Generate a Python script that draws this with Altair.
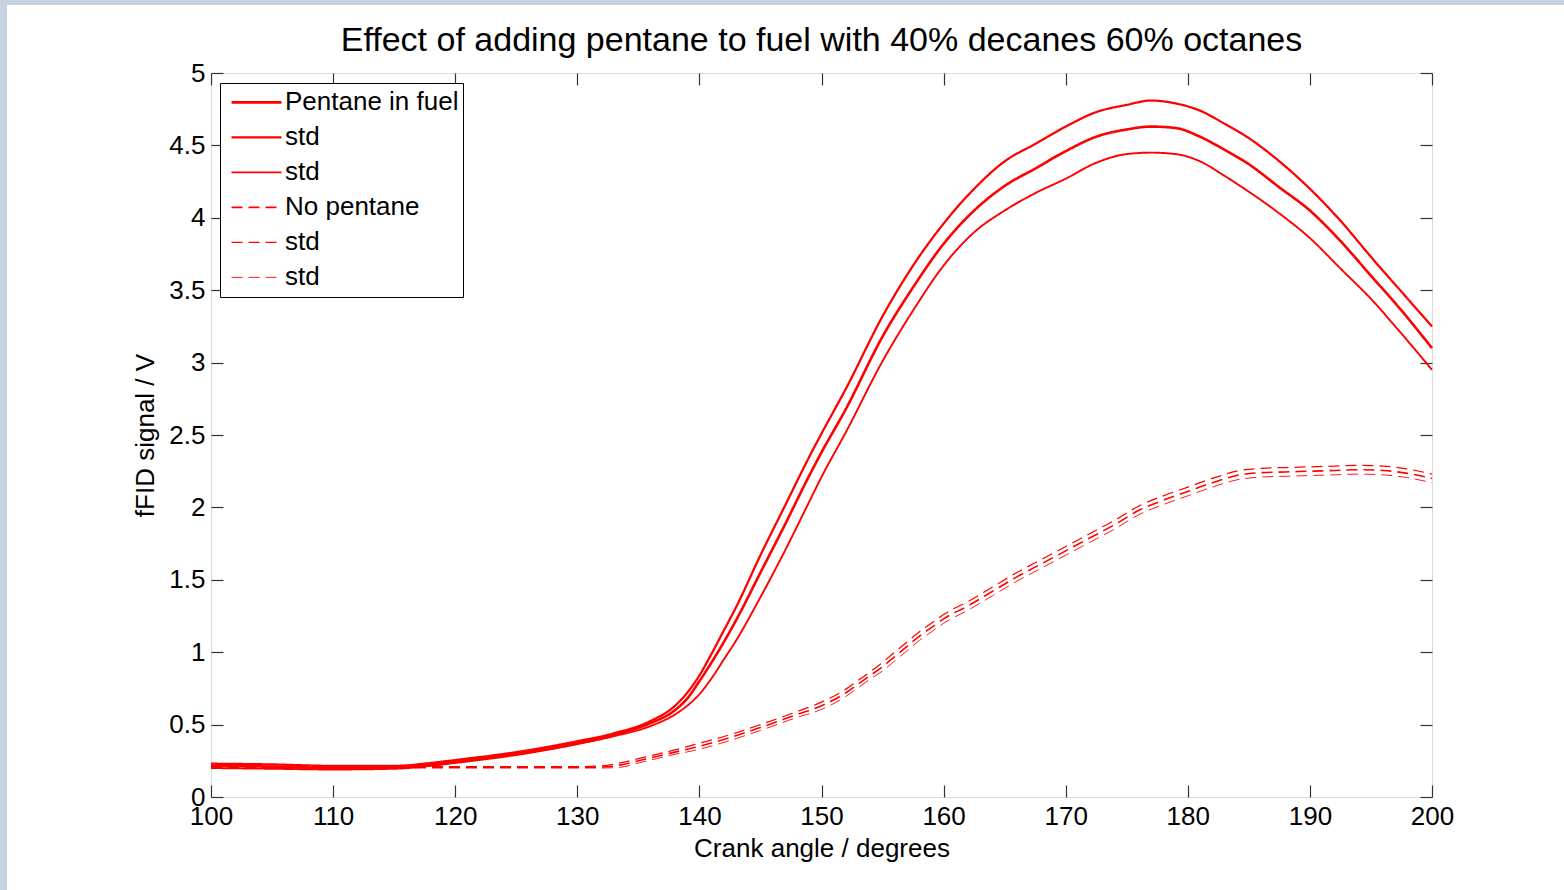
import altair as alt
import pandas as pd

# ---- Crank angle grid and fFID signal (V) ----
ANGLE_P = [100, 105, 110, 115, 118, 120, 125, 130, 133, 136, 138, 139, 140, 141,
           142, 143, 145, 147, 149, 150, 152, 155, 157.5, 160, 162.5, 165, 167.5,
           170, 172.5, 175, 177, 179, 181, 183, 185, 187.5, 190, 192.5, 195, 197.5, 200]
PENT_MEAN = [0.215, 0.21, 0.20, 0.205, 0.225, 0.245, 0.30, 0.375, 0.43, 0.51, 0.60, 0.68,
             0.80, 0.93, 1.07, 1.22, 1.55, 1.88, 2.22, 2.38, 2.68, 3.18, 3.52, 3.82, 4.05,
             4.22, 4.34, 4.46, 4.56, 4.61, 4.63, 4.62, 4.56, 4.47, 4.37, 4.21, 4.05, 3.84,
             3.60, 3.36, 3.10]
PENT_UP = [0.23, 0.225, 0.215, 0.215, 0.235, 0.255, 0.31, 0.385, 0.44, 0.525, 0.63, 0.72,
           0.84, 0.99, 1.15, 1.31, 1.67, 2.01, 2.35, 2.51, 2.82, 3.32, 3.67, 3.96, 4.20,
           4.39, 4.51, 4.63, 4.73, 4.78, 4.81, 4.79, 4.74, 4.65, 4.55, 4.39, 4.20, 3.98,
           3.73, 3.49, 3.25]
PENT_LO = [0.20, 0.195, 0.19, 0.195, 0.215, 0.235, 0.29, 0.365, 0.42, 0.49, 0.57, 0.63,
           0.71, 0.82, 0.95, 1.08, 1.38, 1.70, 2.04, 2.21, 2.52, 3.01, 3.36, 3.67, 3.90,
           4.05, 4.17, 4.27, 4.38, 4.44, 4.45, 4.44, 4.39, 4.29, 4.18, 4.03, 3.86, 3.65,
           3.44, 3.20, 2.95]

ANGLE_N = [100, 110, 120, 130, 132, 133.5, 135, 136.5, 138, 139.5, 142.5, 145, 148, 150,
           152, 153, 154, 155, 156, 157, 158, 159, 160, 162, 164, 166, 168, 170, 172, 174,
           176, 178, 180, 182, 184, 186, 188, 190, 192, 194, 196, 198, 200]
NOP_MEAN = [0.205, 0.205, 0.205, 0.205, 0.207, 0.22, 0.25, 0.28, 0.31, 0.34, 0.41, 0.48,
            0.57, 0.63, 0.72, 0.78, 0.84, 0.90, 0.97, 1.04, 1.11, 1.17, 1.23, 1.32, 1.42,
            1.52, 1.61, 1.70, 1.79, 1.88, 1.98, 2.05, 2.11, 2.17, 2.22, 2.24, 2.245, 2.25,
            2.255, 2.26, 2.255, 2.235, 2.20]
NOP_UP = [0.21, 0.21, 0.21, 0.21, 0.215, 0.235, 0.265, 0.295, 0.325, 0.36, 0.43, 0.50,
          0.59, 0.655, 0.745, 0.805, 0.865, 0.93, 1.0, 1.07, 1.14, 1.20, 1.26, 1.35, 1.45,
          1.55, 1.64, 1.73, 1.82, 1.91, 2.01, 2.08, 2.14, 2.20, 2.25, 2.27, 2.275, 2.28,
          2.285, 2.29, 2.285, 2.265, 2.23]
NOP_LO = [0.20, 0.20, 0.20, 0.20, 0.20, 0.205, 0.235, 0.265, 0.295, 0.32, 0.39, 0.46,
          0.55, 0.605, 0.695, 0.755, 0.815, 0.87, 0.94, 1.01, 1.08, 1.14, 1.20, 1.29, 1.39,
          1.49, 1.58, 1.67, 1.76, 1.85, 1.95, 2.02, 2.08, 2.14, 2.19, 2.21, 2.215, 2.22,
          2.225, 2.23, 2.225, 2.205, 2.17]

SERIES_KEYS = ["p_mean", "p_up", "p_lo", "n_mean", "n_up", "n_lo"]
SERIES_LABELS = ["Pentane in fuel", "std", "std", "No pentane", "std", "std"]
X_TICKS = list(range(100, 201, 10))
Y_TICKS = [0, 0.5, 1, 1.5, 2, 2.5, 3, 3.5, 4, 4.5, 5]

rows = []
for key, xs, ys in [("p_mean", ANGLE_P, PENT_MEAN), ("p_up", ANGLE_P, PENT_UP),
                    ("p_lo", ANGLE_P, PENT_LO), ("n_mean", ANGLE_N, NOP_MEAN),
                    ("n_up", ANGLE_N, NOP_UP), ("n_lo", ANGLE_N, NOP_LO)]:
    for a, v in zip(xs, ys):
        rows.append({"series": key, "angle": a, "value": v})
df = pd.DataFrame(rows)

W, H = 1221, 724
FONT = "Liberation Sans"
RED = "#ff0000"
DASH = [11, 6]

label_expr = " : ".join(
    f"datum.label == '{k}' ? '{t}'" for k, t in zip(SERIES_KEYS, SERIES_LABELS)
) + " : datum.label"

legend = alt.Legend(
    orient="none", legendX=9, legendY=10, title=None, labelExpr=label_expr,
    symbolType="stroke", symbolSize=2500, symbolOffset=6, labelFontSize=26,
    labelFont=FONT, labelColor="black", labelLimit=400, strokeColor="black",
    fillColor="white", padding=4, clipHeight=30.7, rowPadding=4, labelOffset=2,
    cornerRadius=0,
)

x_scale = alt.Scale(domain=[100, 200], nice=False, zero=False)
y_scale = alt.Scale(domain=[0, 5], nice=False, zero=True)

lines = alt.Chart(df).mark_line(interpolate="monotone").encode(
    x=alt.X("angle:Q", scale=x_scale, axis=alt.Axis(
        orient="bottom", values=X_TICKS, ticks=False, domain=False, grid=False,
        labelFlush=False, labelFont=FONT, labelFontSize=26, labelColor="black",
        labelPadding=6, title="Crank angle / degrees", titleFont=FONT,
        titleFontSize=26, titleFontWeight="normal", titleColor="black",
        titlePadding=6)),
    y=alt.Y("value:Q", scale=y_scale, axis=alt.Axis(
        orient="left", values=Y_TICKS, format=".1~f", ticks=False, domain=False,
        grid=False, labelFlush=False, labelFont=FONT, labelFontSize=26,
        labelColor="black", labelPadding=6, title="fFID signal / V", titleFont=FONT,
        titleFontSize=26, titleFontWeight="normal", titleColor="black",
        titlePadding=10)),
    color=alt.Color("series:N", scale=alt.Scale(domain=SERIES_KEYS, range=[RED] * 6),
                    legend=legend),
    strokeDash=alt.StrokeDash("series:N", scale=alt.Scale(
        domain=SERIES_KEYS,
        range=[[1, 0], [1, 0], [1, 0], DASH, DASH, DASH]), legend=legend),
    strokeWidth=alt.StrokeWidth("series:N", scale=alt.Scale(
        domain=SERIES_KEYS, range=[2.6, 0.9, 0.9, 2.8, 0.9, 0.9]), legend=legend),
)


def tick_layer(x_axis, y_axis):
    # invisible marks whose only job is to carry an extra inward-tick axis
    return alt.Chart(df).mark_point(opacity=0).encode(
        x=alt.X("angle:Q", scale=x_scale, axis=x_axis),
        y=alt.Y("value:Q", scale=y_scale, axis=y_axis),
    )


tick_style = dict(labels=False, domain=False, grid=False, ticks=True, tickSize=12,
                  tickColor="#333333", tickWidth=1.2, title="")
bottom_ticks = tick_layer(alt.Axis(orient="top", offset=-H, values=X_TICKS, **tick_style), None)
top_ticks = tick_layer(alt.Axis(orient="bottom", offset=-H, values=X_TICKS, **tick_style), None)
left_ticks = tick_layer(None, alt.Axis(orient="right", offset=-W, values=Y_TICKS, **tick_style))
right_ticks = tick_layer(None, alt.Axis(orient="left", offset=-W, values=Y_TICKS, **tick_style))

# light frame strips along the left and top edges of the page
edge = pd.DataFrame({"k": [0]})
left_strip = alt.Chart(edge).mark_rect(color="#c6d3e1").encode(
    x=alt.value(-211), x2=alt.value(-204), y=alt.value(-73), y2=alt.value(817))
top_strip = alt.Chart(edge).mark_rect(color="#c6d3e1").encode(
    x=alt.value(-211), x2=alt.value(1353), y=alt.value(-73), y2=alt.value(-68))

chart = alt.layer(
    left_strip, top_strip, lines, bottom_ticks, top_ticks, left_ticks, right_ticks
).resolve_axis(x="independent", y="independent").properties(
    width=W, height=H,
    title=alt.Title("Effect of adding pentane to fuel with 40% decanes 60% octanes",
                    font=FONT, fontSize=34, fontWeight="normal", color="black",
                    anchor="middle", frame="group", baseline="alphabetic",
                    offset=0, dy=85),
    autosize=alt.AutoSizeParams(type="none"),
    padding={"left": 211, "top": 73, "right": 132, "bottom": 93},
).configure_view(stroke="#333333", strokeWidth=1.2).configure(background="white")

chart.save("out.html", embed_options={"renderer": "svg", "actions": False})
